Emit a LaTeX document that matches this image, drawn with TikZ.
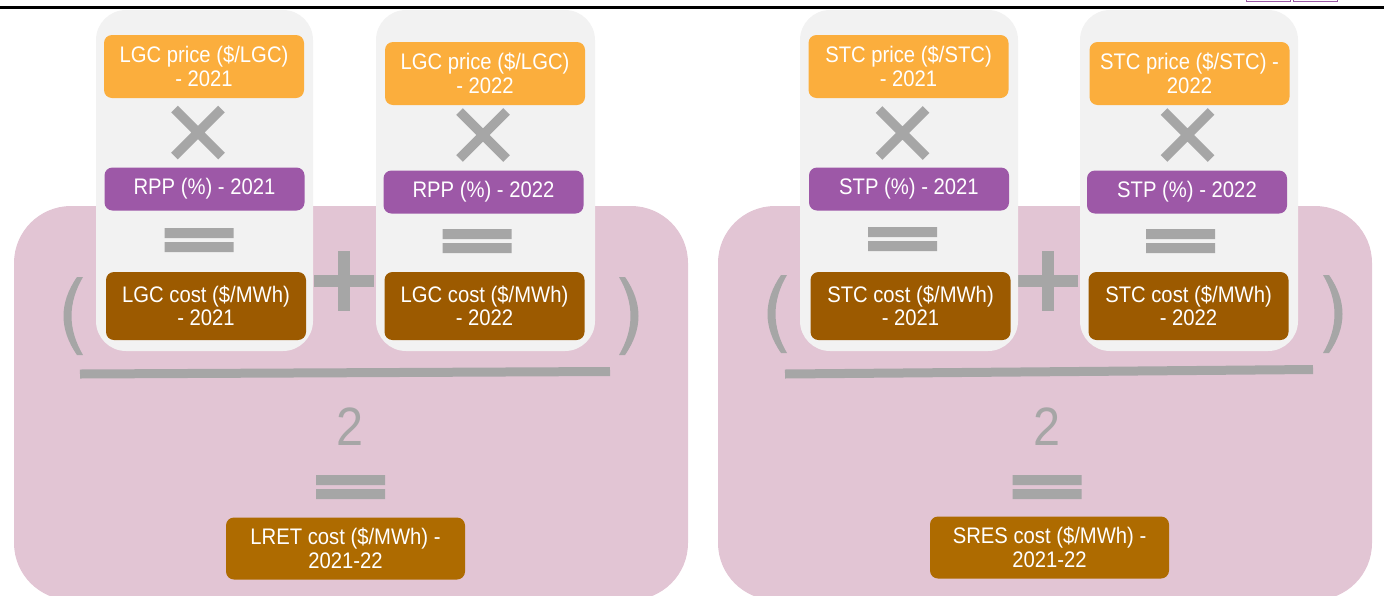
\documentclass[tikz,border=0pt]{standalone}
\usepackage{fontspec}
\setmainfont[FakeStretch=0.9]{Liberation Sans}
\usepackage{tikz}
\definecolor{pinkbg}{RGB}{226,197,212}
\definecolor{colgray}{RGB}{242,242,242}
\definecolor{symgray}{RGB}{166,166,166}
\definecolor{certorange}{RGB}{251,174,61}
\definecolor{certpurple}{RGB}{157,88,167}
\definecolor{costbrown}{RGB}{156,90,0}
\definecolor{totalbrown}{RGB}{174,107,0}
\tikzset{
	box/.style={rounded corners=8pt,text=white,align=center,inner sep=0pt,
		font=\fontsize{22.5}{23.5}\selectfont},
	pricebox/.style={box,fill=certorange,minimum width=200pt,minimum height=63pt},
	pctbox/.style={box,fill=certpurple,minimum width=200pt,minimum height=43pt},
	costbox/.style={box,fill=costbrown,minimum width=200pt,minimum height=68pt},
	totalbox/.style={box,fill=totalbrown,minimum width=239pt,minimum height=62pt},
	column/.style={fill=colgray,rounded corners=30pt},
	pinkpanel/.style={fill=pinkbg,rounded corners=57pt},
	symline/.style={draw=symgray,line width=9.5pt},
	two/.style={text=symgray,inner sep=0pt,font=\fontsize{54}{54}\selectfont}
}
\newcommand{\timessign}[1]{\draw[symline,shift={(#1)}] (-23.5,-23.5) -- (23.5,23.5) (-23.5,23.5) -- (23.5,-23.5);}
\newcommand{\equalsign}[1]{\fill[symgray,shift={(#1)}] (-34.5,-12) rectangle (34.5,-2) (-34.5,2) rectangle (34.5,12);}
\newcommand{\plussign}[1]{\draw[symline,line width=12pt,shift={(#1)}] (-30,0) -- (30,0) (0,-30) -- (0,30);}
% crescent bracket, #1 = options (shift, mirror)
\newcommand{\bracket}[1]{\fill[symgray,#1] (14,0) .. controls (-4,26) and (-4,52) .. (14,78)
	-- (20,78) .. controls (4.7,52) and (4.7,26) .. (20,0) -- cycle;}

\begin{document}
\begin{tikzpicture}[x=1pt,y=-1pt]
			\useasboundingbox (0,0) rectangle (1384,595);
			\draw[line width=2.5pt] (0,7.5) -- (1384,7.5);
			\draw[certpurple,line width=1pt] (1246,-4) rectangle (1290,1) (1293,-4) rectangle (1337,1);
			% LRET half
			\fill[pinkpanel] (14,206) rectangle (688,600);
			\plussign{344,281}
			\fill[column] (96,10) rectangle (313,351);
			\fill[column] (376,10) rectangle (595,351);
			\node[pricebox] (lgcp1) at (204,66.5) {LGC price (\$/LGC)\\- 2021};
			\node[pricebox] (lgcp2) at (485,73.5) {LGC price (\$/LGC)\\- 2022};
			\timessign{198,132.5}
			\timessign{483,135}
			\node[pctbox] (rpp1) at (204.5,189) {RPP (\%) - 2021};
			\node[pctbox] (rpp2) at (483.5,192) {RPP (\%) - 2022};
			\equalsign{199,240}
			\equalsign{477,241}
			\node[costbox] (lgcc1) at (206,306) {LGC cost (\$/MWh)\\- 2021};
			\node[costbox] (lgcc2) at (484.5,306) {LGC cost (\$/MWh)\\- 2022};
			\bracket{shift={(63,277)}}
			\bracket{shift={(639,277)},xscale=-1}
			\draw[symgray,line width=9pt] (80,374) -- (610,371.5);
			\node[two] (half1) at (350,427) {2};
			\equalsign{350.5,487}
			\node[totalbox] (lret) at (345.5,548.5) {LRET cost (\$/MWh) -\\2021-22};
			% SRES half
			\fill[pinkpanel] (718,206) rectangle (1372,600);
			\plussign{1048,281}
			\fill[column] (800,10) rectangle (1018,351);
			\fill[column] (1080,10) rectangle (1298,351);
			\node[pricebox] (stcp1) at (908.5,66.5) {STC price (\$/STC)\\- 2021};
			\node[pricebox] (stcp2) at (1189.5,73.5) {STC price (\$/STC) -\\2022};
			\timessign{902.5,133}
			\timessign{1187.5,135}
			\node[pctbox] (stp1) at (909,189) {STP (\%) - 2021};
			\node[pctbox] (stp2) at (1187,192) {STP (\%) - 2022};
			\equalsign{902.5,239}
			\equalsign{1180.5,241}
			\node[costbox] (stcc1) at (910.5,306) {STC cost (\$/MWh)\\- 2021};
			\node[costbox] (stcc2) at (1188.5,306) {STC cost (\$/MWh)\\- 2022};
			\bracket{shift={(767,275)}}
			\bracket{shift={(1343,275)},xscale=-1}
			\draw[symgray,line width=9pt] (785,374) -- (1313,369.5);
			\node[two] (half2) at (1047,427) {2};
			\equalsign{1047,487}
			\node[totalbox] (sres) at (1049.5,547.5) {SRES cost (\$/MWh) -\\2021-22};
\end{tikzpicture}
\end{document}
